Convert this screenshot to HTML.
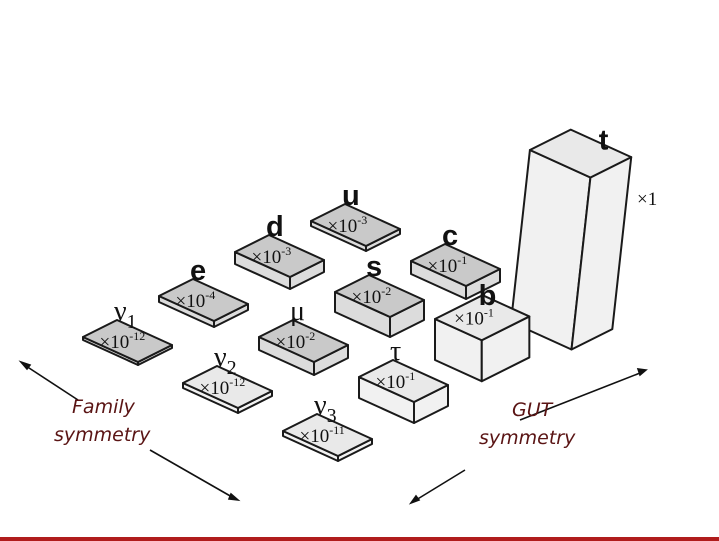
<!DOCTYPE html>
<html><head><meta charset="utf-8"><style>
html,body{margin:0;padding:0;background:#fff;}
svg{display:block;}
.lbl{font-family:"Liberation Sans",sans-serif;font-weight:bold;font-size:29px;fill:#111;}
.glbl{font-family:"Liberation Serif",serif;font-size:28px;fill:#111;}
.mult{font-family:"Liberation Serif",serif;font-size:19px;fill:#111;}
.hand{font-family:"DejaVu Sans",sans-serif;font-style:italic;font-size:19px;fill:#5a1414;}
</style></head><body>
<svg id="chart" width="719" height="541" viewBox="0 0 719 541">
<g id="blocks"></g>
<g stroke="#111" stroke-width="1.6" fill="#111">
<line x1="78" y1="400" x2="26" y2="366"/><polygon points="21,362 30,365 27,369"/>
<line x1="150" y1="450" x2="232" y2="497"/><polygon points="238,500 229,499 231,494"/>
</g>
<g stroke="#111" stroke-width="1.6" fill="#111">
<line x1="465" y1="470" x2="416" y2="500"/><polygon points="411,503 416,496 419,500"/>
<line x1="520" y1="420" x2="640" y2="373"/><polygon points="646,370 638,369 640,375"/>
</g>
<text class="hand" x="72" y="413">Family</text>
<text class="hand" x="54" y="441">symmetry</text>
<text class="hand" x="512" y="416">GUT</text>
<text class="hand" x="479" y="444">symmetry</text>
<text class="mult" x="637" y="205">×1</text>
<rect x="0" y="537" width="719" height="4" fill="#b01c1c"/>
</svg>
<script>
const names = ["ν1","e","d","u","ν2","μ","s","c","ν3","τ","b","t"];
const typeIdx = [0,1,2,3,0,1,2,3,0,1,2,3];
const genIdx = [0,0,0,0,1,1,1,1,2,2,2,2];
const heights = [3,6,12,5,5,13,20,13,5,21,41,172];
const exponents = ["-12","-4","-3","-3","-12","-2","-2","-1","-11","-1","-1",""];
const dark = [1,1,1,1,0,1,1,1,0,0,0,0];
const wa = [1,1,1,1,1,1,1,1,1,1,1.4,1.2];
const wg = [1,1,1,1,1,1,1,1,1,1,0.85,1.1];

const O=[83,340], A=[76,-38], G=[100,48], ea=[34,-17], eg=[55,25];
function px(i,j){return [O[0]+i*A[0]+j*G[0], O[1]+i*A[1]+j*G[1]];}
const NS="http://www.w3.org/2000/svg";
const g=document.getElementById('blocks');
const order=names.map((n,k)=>k).sort((p,q)=>px(typeIdx[p],genIdx[p])[1]-px(typeIdx[q],genIdx[q])[1]);
function poly(pts,fill){const p=document.createElementNS(NS,'polygon');p.setAttribute('points',pts.map(q=>q.join(',')).join(' '));p.setAttribute('fill',fill);p.setAttribute('stroke','#1a1a1a');p.setAttribute('stroke-width','2');p.setAttribute('stroke-linejoin','round');return p;}
order.forEach(k=>{
  const b=px(typeIdx[k],genIdx[k]);const h=heights[k];const lean=k===11?0.11:0;
  const a=[ea[0]*wa[k],ea[1]*wa[k]], e=[eg[0]*wg[k],eg[1]*wg[k]];
  const L=b, F=[b[0]+e[0],b[1]+e[1]], R=[F[0]+a[0],F[1]+a[1]], B=[b[0]+a[0],b[1]+a[1]];
  const up=q=>[q[0]+h*lean,q[1]-h];
  const tL=up(L),tF=up(F),tR=up(R),tB=up(B);
  const grp=document.createElementNS(NS,'g');
  
  
  const topC=dark[k]?'#c9c9c9':'#e9e9e9', sideC=dark[k]?'#dcdcdc':'#f1f1f1';
  grp.appendChild(poly([L,F,tF,tL],sideC));
  grp.appendChild(poly([F,R,tR,tF],sideC));
  grp.appendChild(poly([tL,tF,tR,tB],topC));
  if(exponents[k]!==""){
    const t=document.createElementNS(NS,'text');
    const cx=(tL[0]+tR[0])/2, cy=(tB[1]+tF[1])/2;
    t.setAttribute('x',cx-28);t.setAttribute('y',cy+7);t.setAttribute('class','mult');
    
    
    t.innerHTML='×10<tspan dy="-8" font-size="12">'+exponents[k]+'</tspan>';
    grp.appendChild(t);
  }
  const l=document.createElementNS(NS,'text');
  const greek=names[k].length>1||names[k]==="μ"||names[k]==="τ";
  l.setAttribute('class',greek?'glbl':'lbl');
  let lx=tB[0]-3, ly=tB[1]+(greek?0:1);
  if(k===11){lx=tB[0]+28;ly=tB[1]+20;}
  if(k===10){lx=tB[0]-4;ly=tB[1]+10;}
  l.setAttribute('x',lx);l.setAttribute('y',ly);
  
  
  if(names[k].length>1){l.innerHTML=names[k][0]+'<tspan dy="8" font-size="20">'+names[k][1]+'</tspan>';}
  else l.textContent=names[k];
  grp.appendChild(l);
  g.appendChild(grp);
});
</script>
</body></html>
